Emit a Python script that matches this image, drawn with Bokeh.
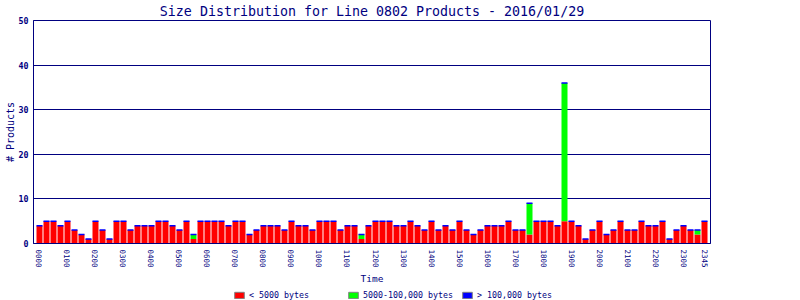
from bokeh.plotting import figure
from bokeh.layouts import column
from bokeh.models import ColumnDataSource, Range1d, FixedTicker, Legend, LegendItem
from bokeh.embed import file_html
from bokeh.resources import INLINE

# ---- data (15-minute bins) ----
times = [f"{h:02d}{m:02d}" for h in range(24) for m in (0, 15, 30, 45)]
tick_labels = ["0000", "0100", "0200", "0300", "0400", "0500", "0600", "0700",
               "0800", "0900", "1000", "1100", "1200", "1300", "1400", "1500",
               "1600", "1700", "1800", "1900", "2000", "2100", "2200", "2300", "2345"]

small = [4, 5, 5, 4, 5, 3, 2, 1, 5, 3, 1, 5, 5, 3, 4, 4,
         4, 5, 5, 4, 3, 5, 1, 5, 5, 5, 5, 4, 5, 5, 2, 3,
         4, 4, 4, 3, 5, 4, 4, 3, 5, 5, 5, 3, 4, 4, 1, 4,
         5, 5, 5, 4, 4, 5, 4, 3, 5, 3, 4, 3, 5, 3, 2, 3,
         4, 4, 4, 5, 3, 3, 2, 5, 5, 5, 4, 5, 5, 4, 1, 3,
         5, 2, 3, 5, 3, 3, 5, 4, 4, 5, 1, 3, 4, 3, 2, 5]
medium = [0, 0, 0, 0, 0, 0, 0, 0, 0, 0, 0, 0, 0, 0, 0, 0,
          0, 0, 0, 0, 0, 0, 1, 0, 0, 0, 0, 0, 0, 0, 0, 0,
          0, 0, 0, 0, 0, 0, 0, 0, 0, 0, 0, 0, 0, 0, 1, 0,
          0, 0, 0, 0, 0, 0, 0, 0, 0, 0, 0, 0, 0, 0, 0, 0,
          0, 0, 0, 0, 0, 0, 7, 0, 0, 0, 0, 31, 0, 0, 0, 0,
          0, 0, 0, 0, 0, 0, 0, 0, 0, 0, 0, 0, 0, 0, 1, 0]
large = [0] * 96
series_fields = ["small", "medium", "large"]
series_labels = ["< 5000 bytes", "5000-100,000 bytes", "> 100,000 bytes"]
series_colors = ["#ff0000", "#00ff00", "#0000ff"]

NAVY = "#000080"
FONT = "DejaVu Sans Mono"

xs = list(range(len(times)))
total = [a + b + c for a, b, c in zip(small, medium, large)]
source = ColumnDataSource(dict(x=xs, time=times, small=small, medium=medium,
                               large=large, total=total))

p = figure(width=800, height=286, output_backend="svg", toolbar_location=None,
           x_range=Range1d(-0.857, 95.857), y_range=Range1d(0, 50),
           min_border_left=33, min_border_right=90, min_border_top=0,
           min_border_bottom=42)

p.title.text = "Size Distribution for Line 0802 Products - 2016/01/29"
p.title.align = "center"
p.title.text_font = FONT
p.title.text_font_size = "13.3px"
p.title.text_font_style = "normal"
p.title.text_color = NAVY
p.title.standoff = 3

p.vbar_stack(["small", "medium"], x="x", width=0.857, source=source,
             fill_color=series_colors[:2], line_color=None)
p.vbar(x="x", bottom="total", top="total", width=0.857, source=source,
       fill_color=None, line_color=series_colors[2], line_width=1.5)

# axes
tick_pos = [times.index(t) for t in tick_labels]
p.xaxis.ticker = FixedTicker(ticks=tick_pos)
p.xaxis.major_label_overrides = {i: times[i] for i in tick_pos}
p.xaxis.major_label_orientation = "vertical"
p.xaxis.axis_label = "Time"
p.yaxis.axis_label = "# Products"
p.yaxis.ticker = FixedTicker(ticks=[0, 10, 20, 30, 40, 50])

for ax in (p.xaxis, p.yaxis):
    ax.axis_line_color = NAVY
    ax.major_tick_line_color = None
    ax.minor_tick_line_color = None
    ax.major_tick_out = 0
    ax.major_tick_in = 0
    ax.major_label_text_font = FONT
    ax.major_label_text_color = NAVY
    ax.axis_label_text_font = FONT
    ax.axis_label_text_color = NAVY
    ax.axis_label_text_font_style = "normal"

p.xaxis.major_label_text_font_size = "7.5px"
p.xaxis.major_label_standoff = 6
p.xaxis.axis_label_text_font_size = "9.5px"
p.xaxis.axis_label_standoff = 2
p.yaxis.major_label_text_font_size = "8.3px"
p.yaxis.major_label_text_font_style = "bold"
p.yaxis.major_label_standoff = 5
p.yaxis.axis_label_text_font_size = "10px"
p.yaxis.axis_label_standoff = 0

p.xgrid.grid_line_color = None
p.ygrid.grid_line_color = NAVY
p.ygrid.grid_line_width = 1
p.outline_line_color = NAVY
p.outline_line_width = 1

# ---- legend strip (hidden renderers supply the legend swatches) ----
lg = figure(width=800, height=14, output_backend="svg", toolbar_location=None,
            x_range=Range1d(0, 1), y_range=Range1d(0, 1),
            x_axis_location=None, y_axis_location=None,
            min_border_left=0, min_border_right=0, min_border_top=0, min_border_bottom=0)
lg.grid.visible = False
lg.outline_line_color = None
items = []
for fld, lab, col in zip(series_fields, series_labels, series_colors):
    r = lg.vbar(x="x", top=fld, width=0.857, source=source,
                fill_color=col, line_color="#808080", visible=False)
    items.append(LegendItem(label=lab, renderers=[r]))

legend = Legend(items=items, orientation="horizontal", location=(200, 0),
                glyph_width=12, glyph_height=8, label_standoff=4,
                label_width=98, label_height=8, spacing=0, padding=0, margin=0,
                border_line_color=None, background_fill_alpha=0,
                inactive_fill_alpha=0,
                label_text_font=FONT, label_text_font_size="8.3px",
                label_text_color=NAVY)
lg.add_layout(legend, "center")

layout = column(p, lg, spacing=0)
open("out.html", "w").write(file_html(layout, INLINE))
